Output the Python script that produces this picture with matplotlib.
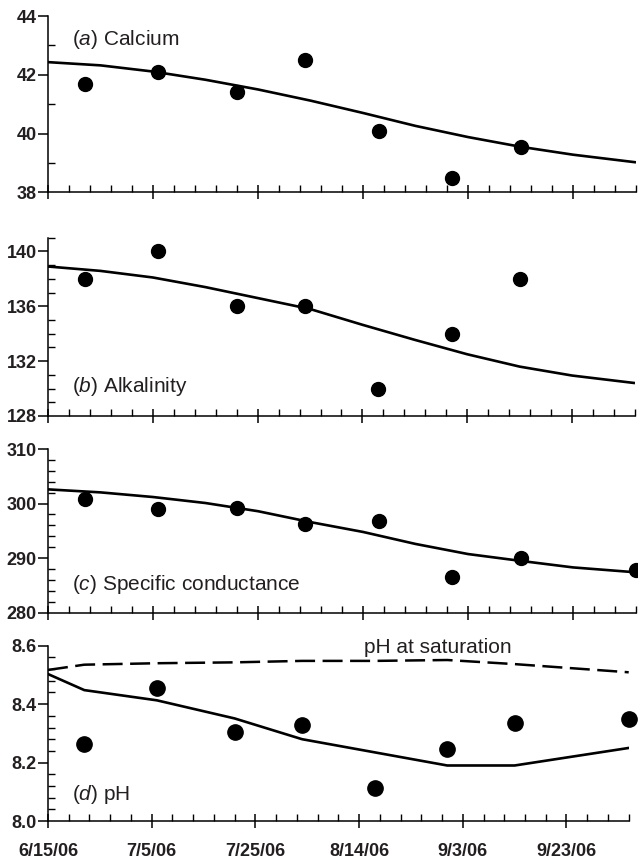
import matplotlib
matplotlib.use("Agg")
import matplotlib.pyplot as plt
import matplotlib.dates as mdates
import numpy as np

plt.rcParams['font.family'] = ['Liberation Sans', 'DejaVu Sans']
plt.rcParams['mathtext.fontset'] = 'custom'
plt.rcParams['mathtext.rm'] = 'Liberation Sans'
plt.rcParams['mathtext.it'] = 'Liberation Sans:italic'

INK = '#231f20'

# sample dates (measured points)
sample_dates = np.array(['2006-06-22', '2006-07-06', '2006-07-21', '2006-08-03',
                         '2006-08-17', '2006-08-31', '2006-09-13', '2006-10-05'],
                        dtype='datetime64[D]')

calcium = [41.7, 42.1, 41.4, 42.5, 40.1, 38.5, 39.55]
alkalinity = [138, 140, 136, 136, 130, 134, 138]
conductance = [300.9, 299.0, 299.2, 296.3, 296.8, 286.6, 290.0, 287.9]
ph = [8.263, 8.456, 8.305, 8.327, 8.113, 8.248, 8.336, 8.348]

# model curves, read every 10 days
curve_dates = np.array(['2006-06-15', '2006-06-25', '2006-07-05', '2006-07-15',
                        '2006-07-25', '2006-08-04', '2006-08-14', '2006-08-24',
                        '2006-09-03', '2006-09-13', '2006-09-23', '2006-10-05'],
                       dtype='datetime64[D]')
calcium_fit = [42.43, 42.32, 42.11, 41.83, 41.50, 41.12, 40.70, 40.26, 39.88, 39.55, 39.28, 39.02]
alkalinity_fit = [138.9, 138.58, 138.1, 137.4, 136.6, 135.8, 134.65, 133.55, 132.5, 131.6, 130.95, 130.4]
conductance_fit = [302.6, 302.05, 301.2, 300.1, 298.6, 296.6, 294.8, 292.6, 290.75, 289.5, 288.3, 287.4]

# pH model and pH at saturation (polylines at the sample dates)
ph_dates = np.array(['2006-06-15', '2006-06-22', '2006-07-06', '2006-07-21', '2006-08-03',
                     '2006-08-17', '2006-08-31', '2006-09-13', '2006-10-05'],
                    dtype='datetime64[D]')
ph_fit = [8.503, 8.448, 8.413, 8.351, 8.28, 8.235, 8.19, 8.19, 8.25]
ph_sat = [8.517, 8.535, 8.54, 8.543, 8.548, 8.548, 8.551, 8.537, 8.509]

tick_dates = np.array(['2006-06-15', '2006-07-05', '2006-07-25', '2006-08-14',
                       '2006-09-03', '2006-09-23'], dtype='datetime64[D]')
tick_labels = ['6/15/06', '7/5/06', '7/25/06', '8/14/06', '9/3/06', '9/23/06']
x_start = np.datetime64('2006-06-15')
x_end = np.datetime64('2006-10-05')

W, H = 638, 860
fig = plt.figure(figsize=(W / 100, H / 100), dpi=100)


def make_ax(left, top, right, bottom):
    return fig.add_axes([left / W, 1 - bottom / H, (right - left) / W, (bottom - top) / H])


ax_a = make_ax(48, 16, 636, 192.3)
ax_b = make_ax(48, 237.7, 635, 416)
ax_c = make_ax(48, 449, 636, 612.7)
ax_d = make_ax(48, 645.7, 628.7, 821)

major = mdates.date2num(tick_dates)
minor = np.arange(mdates.date2num(x_start), mdates.date2num(x_end) + 1, 4)

panels = [
    (ax_a, calcium, calcium_fit, (38, 44), np.arange(38, 45, 2), np.arange(38, 45, 1), '(' + r'$\it{a}$' + ') Calcium', 0.836, 10),
    (ax_b, alkalinity, alkalinity_fit, (128, 141), np.arange(128, 141, 4), np.arange(128, 142, 1), '(' + r'$\it{b}$' + ') Alkalinity', 0.132, 10),
    (ax_c, conductance, conductance_fit, (280, 310), np.arange(280, 311, 10), np.arange(280, 311, 2), '(' + r'$\it{c}$' + ') Specific conductance', 0.139, 10),
]

for ax, vals, fit, ylim, yt, ymt, label, ly, ms in panels:
    ax.plot(curve_dates, fit, color='black', lw=1.9, solid_capstyle='butt')
    ax.plot(sample_dates[:len(vals)], vals, 'o', color='black', ms=ms, clip_on=False)
    ax.set_ylim(*ylim)
    ax.set_yticks(yt)
    ax.set_yticks(ymt, minor=True)
    ax.text(0.041, ly, label, transform=ax.transAxes, fontsize=15, color=INK, va='baseline')

ax_d.plot(ph_dates, ph_fit, color='black', lw=1.9)
ax_d.plot(ph_dates, ph_sat, color='black', lw=1.8, dashes=(8, 3))
ax_d.plot(sample_dates, ph, 'o', color='black', ms=11, clip_on=False)
ax_d.set_ylim(8.0, 8.6)
ax_d.set_yticks(np.round(np.arange(8.0, 8.61, 0.2), 1))
ax_d.set_yticks(np.arange(8.0, 8.61, 0.04), minor=True)
ax_d.yaxis.set_major_formatter(matplotlib.ticker.FormatStrFormatter('%.1f'))
ax_d.text(0.041, 0.12, '(' + r'$\it{d}$' + ') pH', transform=ax_d.transAxes, fontsize=15, color=INK, va='baseline')
ax_d.text(0.545, 0.957, 'pH at saturation', transform=ax_d.transAxes, fontsize=15, color=INK, va='baseline')

for ax in [ax_a, ax_b, ax_c, ax_d]:
    ax.set_xlim(mdates.date2num(x_start), mdates.date2num(x_end))
    ax.set_xticks(major)
    ax.set_xticks(minor, minor=True)
    ax.spines['top'].set_visible(False)
    ax.spines['right'].set_visible(False)
    ax.spines['left'].set_linewidth(1.1)
    ax.spines['bottom'].set_linewidth(1.1)
    ax.tick_params(axis='x', which='major', direction='inout', length=10, width=1.1, color='black')
    ax.tick_params(axis='x', which='minor', direction='in', length=5, width=1.0, color='black')
    ax.tick_params(axis='y', which='major', direction='out', length=7, width=1.1, pad=1,
                   labelsize=13, labelcolor=INK)
    ax.tick_params(axis='y', which='minor', direction='in', length=5, width=1.0)
    for t in ax.get_yticklabels():
        t.set_fontweight('bold')
    if ax is ax_d:
        ax.set_xticklabels(tick_labels, fontsize=13, fontweight='bold', color=INK)
        ax.tick_params(axis='x', which='major', pad=11)
    else:
        ax.set_xticklabels([])

fig.savefig('out.png', dpi=100)
